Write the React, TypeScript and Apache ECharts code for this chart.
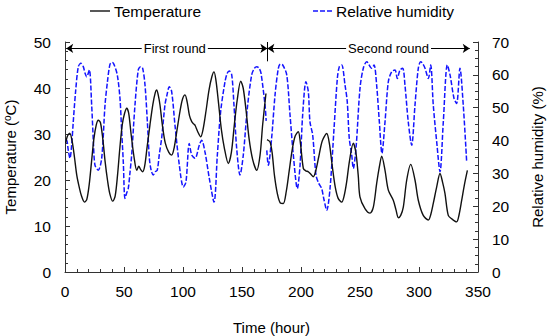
import React, { useEffect, useRef } from "react";
import * as echarts from "echarts";

// Temperature (°C), [hour, value]
const tempRound1: [number, number][] = [
  [0.5, 28], [2, 29.5], [4, 30.2], [6, 28.5], [8, 25], [10, 21], [12, 18.5], [14, 16.5], [16.5, 15.2], [18.5, 15.8],
  [20.5, 19], [22.5, 24], [24.5, 29], [26.5, 32], [28.2, 33], [30, 32.5], [32, 29], [34, 24], [36, 20], [38, 17],
  [40.5, 15.4], [42.5, 16.5], [44.5, 21], [46.5, 27], [48.5, 32], [50.5, 34.5], [52.3, 35.6], [54, 34.5], [56, 30], [58.5, 25],
  [60.8, 22.1], [62.5, 23], [64, 22.3], [65.8, 21.8], [67.5, 23], [69.5, 27], [72, 32], [74.5, 36.5], [76.5, 39], [77.7, 39.6],
  [79, 38.5], [80.5, 36.3], [82.5, 32], [85, 28], [88, 26], [90.4, 25.4], [92.5, 27], [95, 31], [97.5, 35], [99.5, 37.5],
  [101.7, 38.5], [103.5, 37], [105.5, 34], [107.4, 32.7], [109, 32.2], [110.2, 31.9], [112.5, 30.5], [115, 29.4], [117, 31], [119.5, 35],
  [122, 39.5], [124.5, 42.5], [126.3, 43.5], [128, 41.5], [130, 37], [132.5, 31], [135, 27], [138.4, 23.6], [141, 26], [143.5, 32],
  [146, 37.5], [148.9, 41.5], [151, 40], [153.5, 35], [156, 29], [159, 24.5], [162.5, 22.1], [165.3, 25.4], [167.5, 32], [170.3, 38.8],
];
const tempRound2: [number, number][] = [
  [171.2, 28.8], [173.7, 28.3], [175.5, 26], [177.5, 21], [180, 17], [182.5, 15], [185, 14.9], [187.5, 17.5], [190, 22], [192.5, 26.5],
  [195, 29.5], [197.7, 30.5], [199.5, 28], [202, 22.5], [204, 22], [206.2, 21.8], [208.5, 21.2], [210.4, 20.7], [212.5, 22], [215, 25],
  [218, 28.5], [221.8, 30.1], [224, 28], [226.5, 23], [229, 18.5], [231.5, 16], [234.5, 15.2], [236.5, 16.5], [238.7, 19.6], [241, 24],
  [244.3, 28], [246.5, 26], [248.5, 21], [250, 16.3], [254.2, 13.8], [258.5, 12.8], [261.3, 14.1], [264.1, 19.2], [266.5, 23], [268.4, 25.2],
  [271.2, 22.1], [274, 17.8], [278.2, 15.6], [280.5, 13.5], [282.5, 11.8], [284.5, 12.3], [286.7, 14.1], [289.6, 20], [293, 23.4], [296.6, 20],
  [299.4, 15.6], [303.6, 12.3], [307.9, 11.3], [310, 12.5], [312.1, 14.9], [315, 18.5], [317.8, 21.4], [320, 19.5], [322, 17.1], [324.8, 12.3],
  [328, 11.5], [331.9, 10.9], [334, 12.5], [336.2, 15.6], [338.5, 19], [341, 22.1],
];

// Relative humidity (%), [hour, value]
const rhRound1: [number, number][] = [
  [0.5, 40], [1.4, 40.1], [2.8, 37], [4.2, 34.6], [5.5, 38], [7, 45.7], [9, 55], [11.3, 62.5], [13.5, 63.5], [15.5, 62.5],
  [17, 60.5], [18.4, 59.4], [20.6, 61.5], [22.6, 50.8], [24, 40], [25.4, 32.5], [28.2, 31], [31.1, 34.6], [33.9, 50.8], [36, 58],
  [38.1, 63.2], [40, 63.8], [41.5, 63.2], [44.3, 60], [46.6, 52.8], [48, 43], [49.4, 33.5], [50.8, 22.4], [52.2, 24], [53.6, 25.4],
  [55, 30], [56.5, 35.6], [59.3, 50.8], [62.1, 61.5], [64, 62.5], [65.8, 62], [67.8, 56.9], [69.8, 45.7], [71.5, 34.6], [73, 31],
  [74.8, 29.5], [76.5, 30.5], [78.2, 31], [80, 36], [81.9, 40.7], [84.7, 50.8], [86.5, 54], [88.4, 56.4], [90.4, 54.9], [93.2, 44.7],
  [96.9, 32.5], [100.3, 25.9], [102.5, 27.4], [105.3, 39.1], [107.4, 35.6], [110.2, 34.6], [113.8, 38.6], [115.8, 40.1], [118.6, 36.6], [122.3, 28.5],
  [126.3, 21.3], [129.1, 35.6], [131.9, 48.8], [135.6, 57.9], [137.5, 60.5], [139.2, 61.2], [141.3, 60], [143.2, 50.8], [145.5, 37.6], [148.3, 29.5],
  [151.1, 35.6], [154.5, 49.8], [158.2, 60], [160.5, 62], [162.5, 62.5], [164.5, 62], [166.1, 60.5], [169.5, 50.8], [170.5, 46],
];
const rhRound2: [number, number][] = [
  [171, 37], [172.3, 32.5], [175.1, 40.7], [178, 53.9], [180.8, 62], [182.5, 63.3], [184.5, 63], [187.9, 60], [190.7, 47.8], [193.5, 35.6],
  [196.9, 25.4], [199.2, 32.5], [201.4, 47.8], [204.2, 57.9], [206.2, 54.9], [207.6, 45.7], [209.9, 41.7], [212.7, 29.5], [215, 27], [217.5, 25.4],
  [219.5, 22], [221.8, 18.8], [224.6, 25.4], [228, 43.7], [230.8, 58.9], [232.5, 62.5], [234.5, 63], [237.3, 56.9], [239.2, 51.8], [240.9, 40.7],
  [243, 35.6], [244.3, 31.5], [246.6, 37.6], [250, 55.9], [252.8, 62], [255.7, 64], [259.9, 62], [261.9, 63], [264.1, 56.9], [266.4, 45.7],
  [268.6, 36.1], [271.2, 45.7], [274, 57.9], [276.9, 61], [279.7, 61.5], [281.6, 58.9], [283.9, 61.5], [286.2, 62], [288.1, 56.9], [290.9, 45.7],
  [293.8, 38.6], [296.6, 50.8], [299.4, 62], [301.4, 64], [303, 63.5], [305.1, 62], [307.9, 58.9], [309.9, 63], [312.1, 50.8], [315, 39.6],
  [317.8, 30.5], [320.6, 45.7], [324, 63], [326.3, 60], [329.7, 52.8], [331.9, 51.3], [334.7, 62], [337.5, 50.8], [340.4, 33.5],
];

// Annotation values (data units)
const roundNames = ["First round", "Second round"];
const roundStart = 1;
const roundDivider = 171.5;
const roundEnd = 343;
const arrowLevel = 48.6;
const dividerRange = [45.8, 50];

const FONT = "'Liberation Sans', Arial, Helvetica, sans-serif";
const SOLID_ICON = "path://M0,0H20V1.4H0Z";
const DASH_ICON = "path://M0,0H5V1.4H0Z M7,0H12V1.4H7Z M14,0H19V1.4H14Z";

export default function App() {
  const ref = useRef<HTMLDivElement>(null);
  useEffect(() => {
    if (!ref.current) return;
    const chart = echarts.init(ref.current, undefined, { renderer: "svg" });
    const gap: any = [null, "-"];
    const axisColor = "#333";
    const legendText = { fontSize: 15.5, color: "#000", fontFamily: FONT };
    chart.setOption({
      animation: false,
      textStyle: { fontFamily: FONT, color: "#000" },
      grid: { left: 65, right: 72, top: 42, bottom: 64, containLabel: false, outerBoundsMode: "none" },
      legend: [
        {
          data: [{ name: "Temperature", icon: SOLID_ICON }],
          left: 90,
          top: 3,
          padding: 0,
          itemWidth: 20,
          itemHeight: 1.4,
          itemGap: 0,
          textStyle: { ...legendText, padding: [0, 0, 0, -1] },
        },
        {
          data: [{ name: "Relative humidity", icon: DASH_ICON }],
          left: 313,
          top: 3,
          padding: 0,
          itemWidth: 19,
          itemHeight: 1.4,
          itemGap: 0,
          textStyle: { ...legendText, padding: [0, 0, 0, -1] },
        },
      ],
      xAxis: {
        type: "value",
        min: 0,
        max: 350,
        interval: 50,
        name: "Time (hour)",
        nameLocation: "middle",
        nameGap: 48,
        nameTextStyle: { fontSize: 15, color: "#000", fontFamily: FONT },
        axisLine: { show: true, lineStyle: { color: axisColor, width: 1 } },
        axisTick: { show: true, inside: true, length: 5, lineStyle: { color: axisColor } },
        minorTick: { show: true, splitNumber: 5, length: 3, lineStyle: { color: axisColor } },
        splitLine: { show: false },
        axisLabel: { fontSize: 15.5, color: "#000", margin: 11, fontFamily: FONT },
      },
      yAxis: [
        {
          type: "value",
          min: 0,
          max: 50,
          interval: 10,
          position: "left",
          name: "Temperature ({sup|o}C)",
          nameLocation: "middle",
          nameRotate: 90,
          nameGap: 47,
          nameTextStyle: {
            fontSize: 15,
            color: "#000",
            fontFamily: FONT,
            rich: { sup: { fontSize: 10, verticalAlign: "top", padding: [0, 0, 6, 0], fontFamily: FONT, color: "#000" } },
          },
          axisLine: { show: true, lineStyle: { color: axisColor, width: 1 } },
          axisTick: { show: true, inside: true, length: 5, lineStyle: { color: axisColor } },
          minorTick: { show: true, splitNumber: 5, length: 3, lineStyle: { color: axisColor } },
          splitLine: { show: false },
          axisLabel: { fontSize: 15.5, color: "#000", margin: 14, fontFamily: FONT },
        },
        {
          type: "value",
          min: 0,
          max: 70,
          interval: 10,
          position: "right",
          name: "Relative humidity (%)",
          nameLocation: "middle",
          nameRotate: 90,
          nameGap: 52,
          nameTextStyle: { fontSize: 15, color: "#000", fontFamily: FONT },
          axisLine: { show: true, lineStyle: { color: axisColor, width: 1 } },
          axisTick: { show: true, inside: true, length: 5, lineStyle: { color: axisColor } },
          minorTick: { show: true, splitNumber: 4, length: 3, lineStyle: { color: axisColor } },
          splitLine: { show: false },
          axisLabel: { fontSize: 15.5, color: "#000", margin: 14, fontFamily: FONT },
        },
      ],
      series: [
        {
          name: "Relative humidity",
          type: "line",
          yAxisIndex: 1,
          showSymbol: false,
          symbol: "none",
          smooth: 0.3,
          connectNulls: false,
          lineStyle: { color: "#1414ff", width: 1.5, type: [5, 2] },
          itemStyle: { color: "#1414ff" },
          data: [...rhRound1, gap, ...rhRound2],
          z: 2,
        },
        {
          name: "Temperature",
          type: "line",
          yAxisIndex: 0,
          showSymbol: false,
          symbol: "none",
          smooth: 0.3,
          connectNulls: false,
          lineStyle: { color: "#111", width: 1.4 },
          itemStyle: { color: "#111" },
          data: [...tempRound1, gap, ...tempRound2],
          z: 3,
          markLine: {
            silent: true,
            symbol: ["arrow", "arrow"],
            symbolSize: 7,
            lineStyle: { color: "#000", width: 1, type: "solid" },
            label: {
              show: true,
              position: "middle",
              formatter: "{b}",
              fontSize: 13,
              color: "#000",
              fontFamily: FONT,
              backgroundColor: "#fff",
              padding: [1, 2],
              distance: 0,
              verticalAlign: "middle",
            },
            data: [
              [
                { coord: [roundStart, arrowLevel], name: roundNames[0], label: { offset: [8, 0] } },
                { coord: [roundDivider, arrowLevel] },
              ],
              [
                { coord: [roundDivider, arrowLevel], name: roundNames[1], label: { offset: [20, 0] } },
                { coord: [roundEnd, arrowLevel] },
              ],
              [
                { coord: [roundDivider, dividerRange[0]], symbol: "none", label: { show: false } },
                { coord: [roundDivider, dividerRange[1]], symbol: "none" },
              ],
            ],
          },
        },
      ],
    });
    return () => chart.dispose();
  }, []);
  return (
    <div
      ref={ref}
      style={{ position: "fixed", left: 0, top: 0, width: 550, height: 336, background: "#fff" }}
    />
  );
}
